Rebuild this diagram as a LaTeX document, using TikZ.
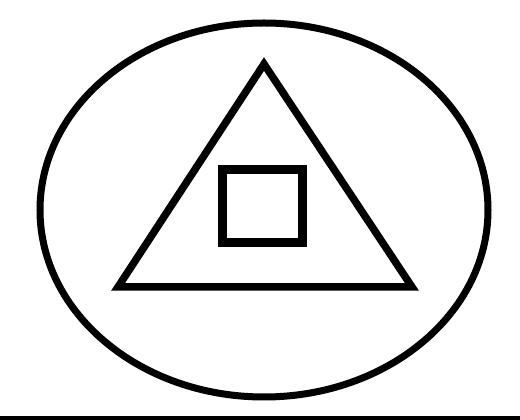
\documentclass[tikz,border=0pt]{standalone}
\begin{document}
\begin{tikzpicture}[x=1pt,y=1pt]
\useasboundingbox (0,0) rectangle (520,420);
% outer ellipse
\draw[line width=7pt] (264,210) ellipse (224 and 187);
% triangle
\draw[line width=7.5pt] (264,356) -- (118,133) -- (412,133) -- cycle;
% inner square
\draw[line width=9pt] (222,250) rectangle (302,177);
% bottom rule
\fill (0,0) rectangle (520,3.5);
\end{tikzpicture}
\end{document}
